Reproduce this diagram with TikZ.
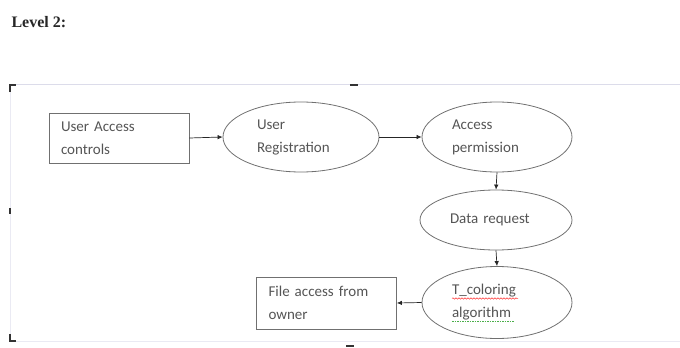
\documentclass[tikz,border=0pt]{standalone}
\usepackage{fontspec}
\setmainfont{Carlito}
\newfontfamily\serifbold{Liberation Serif}
\usetikzlibrary{shapes.geometric,arrows.meta,decorations.pathmorphing}
\definecolor{txt}{HTML}{555555}
\definecolor{frame}{HTML}{DCDCEA}
\definecolor{shapeline}{HTML}{707070}
\begin{document}
\begin{tikzpicture}[x=1pt,y=-1pt,
  txtstyle/.style={font=\fontsize{15}{23}\selectfont, text=txt},
  boxnode/.style={draw=shapeline, line width=0.8pt, rectangle, txtstyle, align=left,
     minimum width=140pt, minimum height=50pt, text width=116pt, inner xsep=12pt},
  ellnode/.style={draw=shapeline, line width=0.8pt, ellipse, txtstyle, align=left,
     minimum width=152pt, minimum height=70pt, inner sep=0pt, text width=90pt},
  conn/.style={draw=black!85, line width=0.7pt, -{Latex[length=5pt,width=4.5pt]}},
  cornermark/.style={line width=2pt, black!80}]
\useasboundingbox (0,0) rectangle (680,348);
% title
\node[anchor=west, font=\serifbold\bfseries\fontsize{16}{18}\selectfont, text=black!85] (title) at (8,22) {Level 2:};
% frame
\draw[frame, line width=0.8pt] (14,84) -- (680,84);
\draw[frame!60, line width=0.6pt] (10,92) -- (10,336);
\draw[frame!60, line width=0.6pt] (16,341) -- (680,341);
\draw[cornermark] (10,92) -- (10,85) -- (16,85);
\draw[cornermark] (350,84.5) -- (358,84.5);
\draw[cornermark, line width=1.5pt] (10,208) -- (10,214);
\draw[cornermark] (10,334) -- (10,341) -- (16,341);
\draw[cornermark] (346,345.5) -- (354,345.5);
% nodes
\node[boxnode] (uac) at (119,138) {User Access\\controls};
\node[ellnode, minimum width=156pt, text width=88pt] (ureg) at (301,137) {User\\Registration};
\node[ellnode, minimum width=150pt] (aperm) at (497,137) {Access\\permission};
\node[ellnode, minimum height=60pt, text width=92pt] (dreq) at (496,220) {Data request};
\node[ellnode, minimum width=150pt, minimum height=72pt] (tcol) at (497,302.5) {T\_coloring\\algorithm};
\node[boxnode, minimum width=139pt, minimum height=52pt] (fao) at (326.5,303) {File access from\\owner};
% spell-check underlines
\coordinate (r1) at (452,298.5);
\coordinate (r2) at (518,298.5);
\draw[red!80, line width=0.5pt, decorate, decoration={snake, amplitude=0.7pt, segment length=3pt}] (r1) -- (r2);
\coordinate (g1) at (452,321.5);
\coordinate (g2) at (514,321.5);
\draw[green!55!black!70, line width=0.5pt, dash pattern=on 1.5pt off 1pt] (g1) -- (g2);
% connectors
\draw[conn] (uac.east) -- (ureg.west);
\draw[conn] (ureg.east) -- (aperm.west);
\draw[conn] (aperm.south) -- (dreq.north);
\draw[conn] (dreq.south) -- (tcol.north);
\draw[conn] (tcol.west) -- (fao.east);
\end{tikzpicture}
\end{document}
